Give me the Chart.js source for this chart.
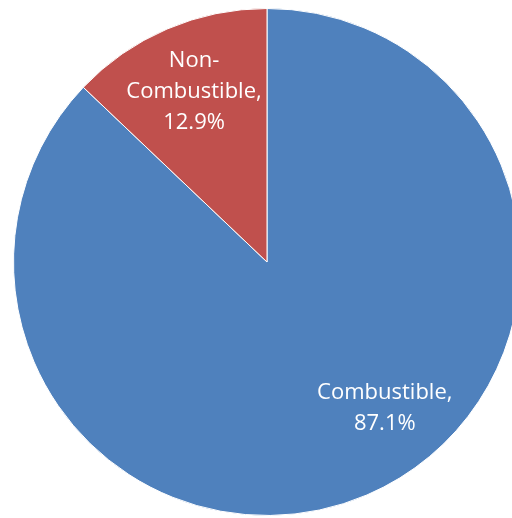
<!DOCTYPE html>
<html>
<head>
<meta charset="utf-8">
<script src="https://cdn.jsdelivr.net/npm/chart.js@4.4.1/dist/chart.umd.min.js"></script>
<style>
  html, body { margin: 0; padding: 0; background: #ffffff; overflow: hidden; }
  #wrap { position: relative; width: 534px; height: 524px; }
</style>
</head>
<body>
<div id="wrap"><canvas id="chartPie"></canvas></div>
<script>
const categories = ['Combustible', 'Non-Combustible'];
const shares = [87.1, 12.9];
const sliceColors = ['#4F81BD', '#C0504D'];
const labelLines = [['Combustible,', '87.1%'], ['Non-', 'Combustible,', '12.9%']];
// where along each slice the label sits (fraction of the sweep, fraction of radius)
const labelSweep = [0.45, 0.5];
const labelRadius = [0.74, 0.73];

const sliceLabels = {
    id: 'sliceLabels',
    afterDatasetsDraw(chart) {
        const ctx = chart.ctx;
        const arcs = chart.getDatasetMeta(0).data;
        ctx.save();
        ctx.fillStyle = '#ffffff';
        ctx.font = '22px "Open Sans"';
        ctx.textAlign = 'center';
        ctx.textBaseline = 'middle';
        arcs.forEach((arc, i) => {
            const a = arc.startAngle + (arc.endAngle - arc.startAngle) * labelSweep[i];
            const r = arc.outerRadius * labelRadius[i];
            const cx = arc.x + Math.cos(a) * r;
            const cy = arc.y + Math.sin(a) * r;
            const lines = labelLines[i];
            const lh = 31;
            lines.forEach((t, j) => {
                ctx.fillText(t, cx, cy + (j - (lines.length - 1) / 2) * lh);
            });
        });
        ctx.restore();
    }
};

const ctx = document.getElementById('chartPie').getContext('2d');
const chart = new Chart(ctx, {
    type: 'pie',
    data: {
        labels: categories,
        datasets: [{
            data: shares,
            backgroundColor: sliceColors,
            borderColor: '#ffffff',
            borderWidth: 1
        }]
    },
    options: {
        responsive: true,
        maintainAspectRatio: false,
        animation: false,
        layout: { padding: { left: 13, right: 13, top: 8, bottom: 8 } },
        plugins: {
            legend: { display: false },
            tooltip: { enabled: false }
        }
    },
    plugins: [sliceLabels]
});
</script>
</body>
</html>
